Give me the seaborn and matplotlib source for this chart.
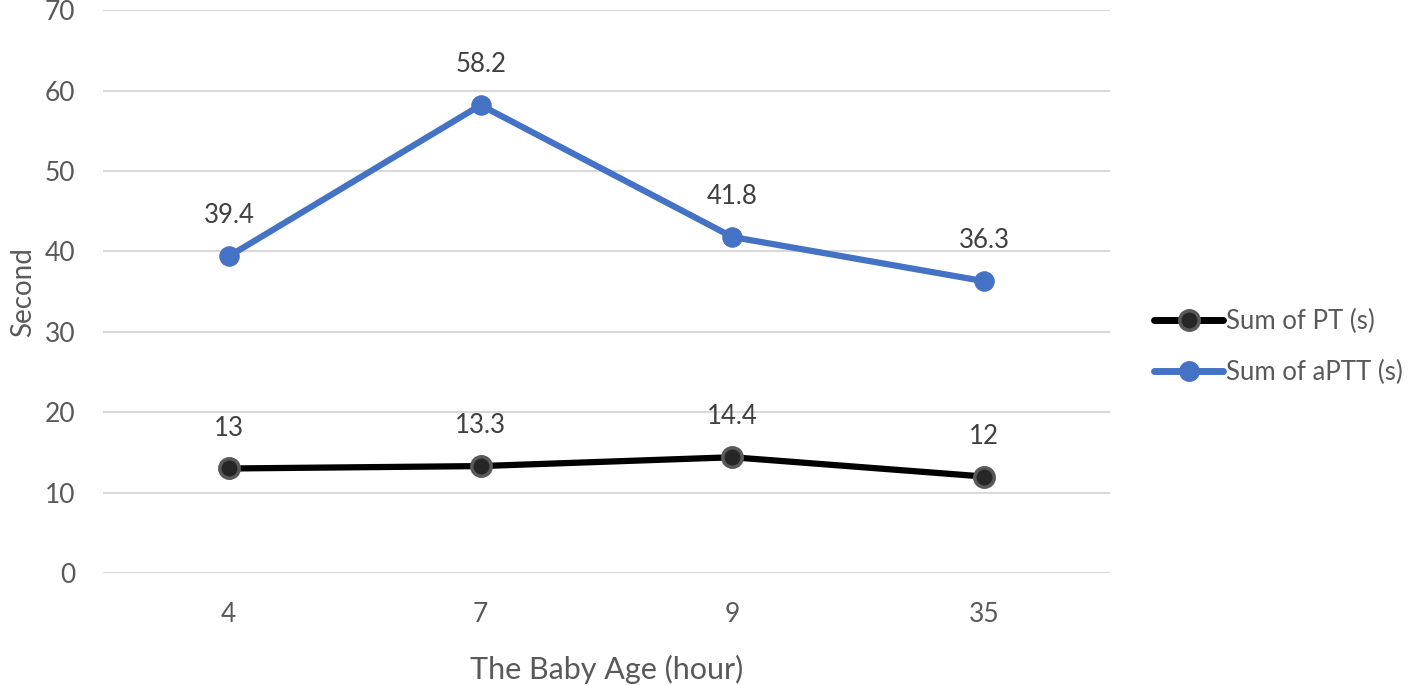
import pandas as pd
import seaborn as sns
import matplotlib.pyplot as plt

ages = ['4', '7', '9', '35']
pt = [13, 13.3, 14.4, 12]
aptt = [39.4, 58.2, 41.8, 36.3]
series = ['Sum of PT (s)', 'Sum of aPTT (s)']

df = pd.DataFrame({
    'age': ages * 2,
    'value': pt + aptt,
    'series': [series[0]] * 4 + [series[1]] * 4,
})

sns.set_style('white')
plt.rcParams['font.family'] = ['Lato', 'DejaVu Sans']

fig = plt.figure(figsize=(14.17, 6.85), dpi=100)
ax = fig.add_axes([0.0727, 0.1635, 0.7106, 0.8215])

colors = {series[0]: '#000000', series[1]: '#4472C4'}
sns.lineplot(data=df, x='age', y='value', hue='series', palette=colors,
             marker='o', markersize=14, linewidth=4.5, legend=False, ax=ax, sort=False)

# marker styles
lines = ax.get_lines()
lines[0].set_markerfacecolor('#262626')
lines[0].set_markeredgecolor('#595959')
lines[0].set_markeredgewidth(2.5)
lines[1].set_markerfacecolor('#4472C4')
lines[1].set_markeredgecolor('#4472C4')

for vals in (pt, aptt):
    for i, v in enumerate(vals):
        ax.annotate(f'{v:g}', (i, v), xytext=(0, 20), textcoords='offset points',
                    ha='center', va='bottom', fontsize=18.5, color='#404040')

ax.set_xlim(-0.5, 3.5)
ax.set_ylim(0, 70)
ax.set_yticks(range(0, 71, 10))
ax.yaxis.grid(True, color='#d9d9d9', linewidth=1.5)
ax.set_axisbelow(True)
for s in ax.spines.values():
    s.set_visible(False)
ax.tick_params(axis='both', colors='#595959', labelsize=19, length=0)
ax.tick_params(axis='x', pad=21)
ax.tick_params(axis='y', pad=20)
ax.set_xlabel('The Baby Age (hour)', fontsize=22, color='#595959', labelpad=20)
ax.set_ylabel('Second', fontsize=20, color='#595959', labelpad=6)

handles = [
    plt.Line2D([], [], color='#000000', lw=5, marker='o', markersize=14,
               markerfacecolor='#262626', markeredgecolor='#595959', markeredgewidth=2.5),
    plt.Line2D([], [], color='#4472C4', lw=5, marker='o', markersize=14),
]
fig.legend(handles, series, loc='center left', bbox_to_anchor=(0.798, 0.493),
           frameon=False, fontsize=18.5, labelcolor='#595959', handlelength=2.7,
           handletextpad=0.1, labelspacing=1.0)

fig.savefig('out.png', dpi=100)
